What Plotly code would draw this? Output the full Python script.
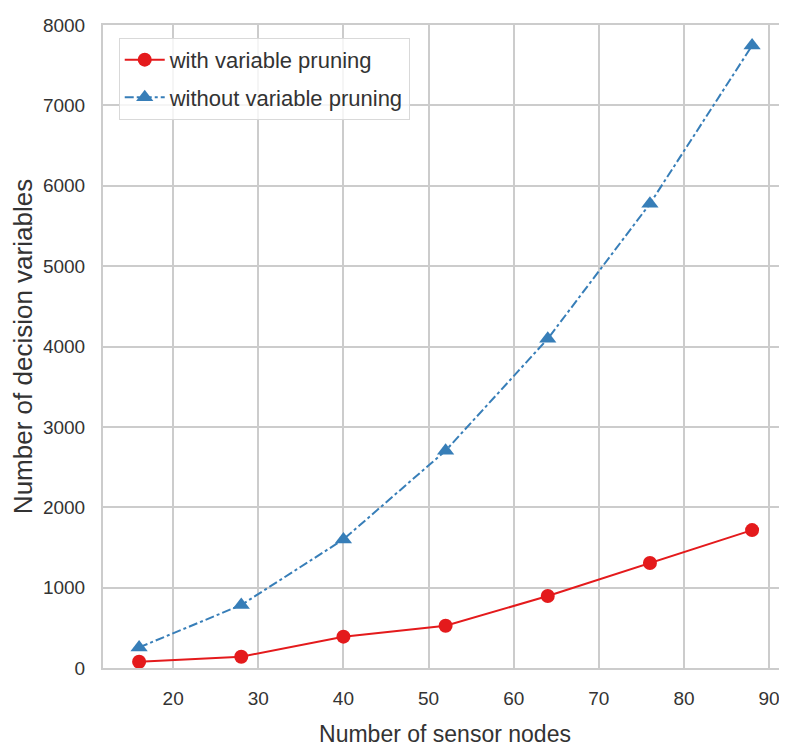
import plotly.graph_objects as go

nodes = [16, 28, 40, 52, 64, 76, 88]
with_pruning = [78, 140, 390, 526, 895, 1306, 1716]
without_pruning = [256, 784, 1600, 2704, 4096, 5776, 7744]
x_ticks = [20, 30, 40, 50, 60, 70, 80, 90]
y_ticks = [0, 1000, 2000, 3000, 4000, 5000, 6000, 7000, 8000]

RED = "#e41a1c"
BLUE = "#377eb8"
FONT = "Liberation Sans, Arial, sans-serif"

fig = go.Figure()
fig.add_trace(go.Scatter(
    x=nodes, y=with_pruning, mode="lines+markers",
    name="with variable pruning", legendgroup="a",
    line=dict(color=RED, width=2),
    marker=dict(symbol="circle", size=14, color=RED),
))
fig.add_trace(go.Scatter(
    x=nodes, y=without_pruning, mode="lines+markers",
    name="without variable pruning", legendgroup="b",
    line=dict(color=BLUE, width=2, dash="dashdot"),
    marker=dict(symbol="triangle-up", size=15, color=BLUE),
))

axis_common = dict(
    showgrid=True, gridcolor="#cccccc", gridwidth=1.5,
    showline=True, linecolor="#cccccc", linewidth=2, mirror=True,
    zeroline=False, ticks="", automargin=False,
    ticklabeloverflow="allow",
    tickfont=dict(family=FONT, size=19, color="#333333"),
)
fig.update_xaxes(
    range=[11.76, 92.1], tickvals=x_ticks,
    title=dict(text="Number of sensor nodes", font=dict(family=FONT, size=23, color="#333333"), standoff=18),
    ticklabelstandoff=12,
    **axis_common,
)
fig.update_yaxes(
    range=[0, 8000], tickvals=y_ticks,
    title=dict(text="Number of decision variables", font=dict(family=FONT, size=26, color="#333333"), standoff=5),
    ticklabelstandoff=12,
    **axis_common,
)
fig.update_layout(
    width=779, height=739,
    margin=dict(l=95, r=0, t=17, b=79),
    paper_bgcolor="white", plot_bgcolor="white",
    font=dict(family=FONT, color="#333333"),
    legend=dict(
        x=0.023, y=0.98, xanchor="left", yanchor="top",
        bgcolor="rgba(255,255,255,0.8)", bordercolor="#d9d9d9", borderwidth=1,
        font=dict(family=FONT, size=22, color="#333333"),
        itemwidth=40, traceorder="grouped", tracegroupgap=6,
    ),
)
fig.write_html("out.html")
